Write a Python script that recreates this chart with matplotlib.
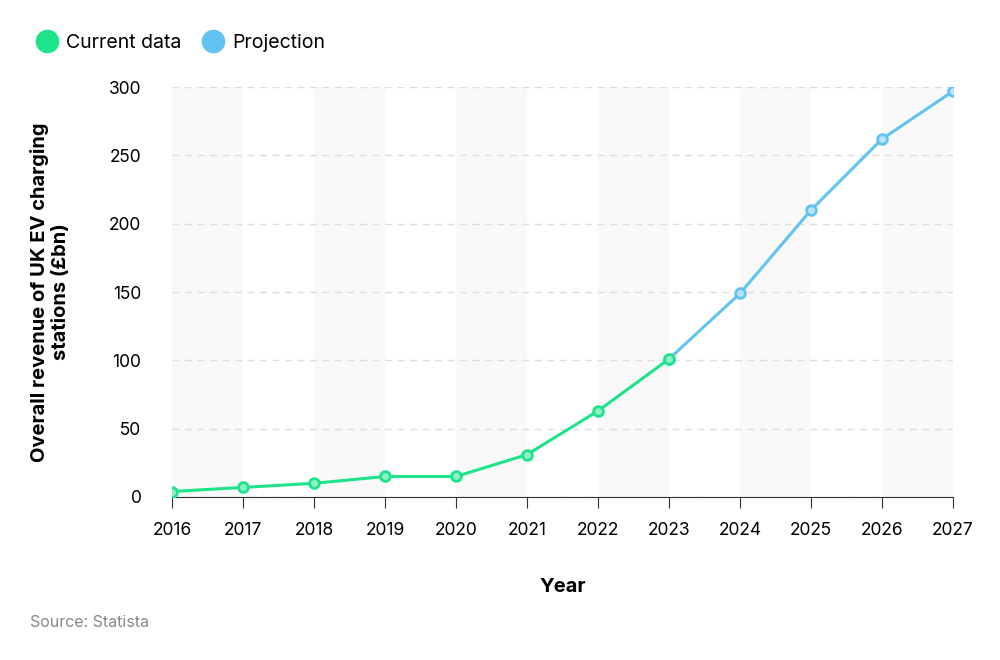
import matplotlib
matplotlib.use("Agg")
import matplotlib.pyplot as plt
from matplotlib.lines import Line2D

years = [2016, 2017, 2018, 2019, 2020, 2021, 2022, 2023, 2024, 2025, 2026, 2027]
current_years = [2016, 2017, 2018, 2019, 2020, 2021, 2022, 2023]
current_vals = [4, 7, 10, 15, 15, 31, 63, 101]
proj_years = [2023, 2024, 2025, 2026, 2027]
proj_vals = [101, 149, 210, 262, 297]
yticks = [0, 50, 100, 150, 200, 250, 300]

GREEN = "#1de38a"
BLUE = "#62c3f2"
plt.rcParams["font.family"] = "Inter"

fig = plt.figure(figsize=(10, 6.6), dpi=100)
ax = fig.add_axes([0.172, 0.247, 0.781, 0.621])

for i in range(0, len(years) - 1, 2):
    ax.axvspan(years[i], years[i + 1], color="#f9f9f9", zorder=0, lw=0)

ax.plot(proj_years, proj_vals, color=BLUE, lw=2.2, marker="o", ms=7,
        mfc="#b9e4f8", mec=BLUE, mew=2, zorder=3)
ax.plot(current_years, current_vals, color=GREEN, lw=2.2, marker="o", ms=7,
        mfc="#8ff0c3", mec=GREEN, mew=2, zorder=4)

ax.set_xlim(2016, 2027)
ax.set_ylim(0, 300)
ax.set_xticks(years)
ax.set_yticks(yticks)
ax.tick_params(axis="x", labelsize=12.5, length=8, color="#333333", pad=10)
ax.tick_params(axis="y", labelsize=12.5, length=0, pad=22)
ax.yaxis.grid(True, ls=(0, (5, 4)), color="#dddddd", lw=1)
ax.set_axisbelow(True)
for s in ["top", "right", "left"]:
    ax.spines[s].set_visible(False)
ax.spines["bottom"].set_color("#333333")
ax.set_xlabel("Year", fontsize=14.5, fontweight="bold", labelpad=28)
ax.set_ylabel("Overall revenue of UK EV charging\nstations (£bn)", fontsize=14.5,
              fontweight="bold", labelpad=28)

handles = [Line2D([], [], ls="", marker="o", ms=16, color=GREEN),
           Line2D([], [], ls="", marker="o", ms=16, color=BLUE)]
fig.legend(handles, ["Current data", "Projection"], loc="upper left",
           bbox_to_anchor=(0.01, 0.975), ncol=2, frameon=False, fontsize=14,
           handletextpad=0.0, columnspacing=0.6)
fig.text(0.03, 0.05, "Source: Statista", fontsize=11.5, color="#888888")

fig.savefig("out.png", dpi=100)
